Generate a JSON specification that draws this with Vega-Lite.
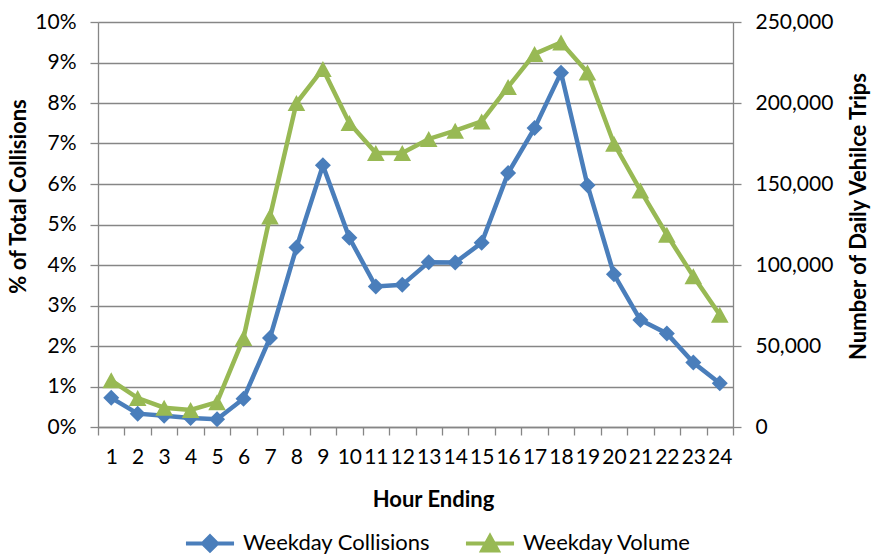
{
  "$schema": "https://vega.github.io/schema/vega-lite/v6.json",
  "width": 635,
  "height": 405,
  "autosize": {"type": "none"},
  "padding": {"left": 98, "top": 22, "right": 138, "bottom": 129},
  "background": "white",
  "config": {
    "view": {"stroke": null},
    "font": "Lato",
    "axis": {
      "labelFont": "Lato",
      "labelFontSize": 21,
      "labelColor": "#000000",
      "titleFont": "Lato",
      "titleFontSize": 22,
      "titleFontWeight": "bold",
      "titleColor": "#000000",
      "domainColor": "#868686",
      "domainWidth": 1.3,
      "tickColor": "#868686",
      "tickWidth": 1.3,
      "gridColor": "#868686",
      "gridWidth": 1.3
    },
    "legend": {
      "labelFont": "Lato",
      "labelFontSize": 22,
      "labelColor": "#000000",
      "labelLimit": 400,
      "title": null,
      "orient": "none",
      "direction": "horizontal",
      "legendX": 101,
      "legendY": 510,
      "symbolSize": 200,
      "symbolStrokeWidth": 4,
      "labelOffset": 22,
      "columnPadding": 26
    }
  },
  "data": {
    "values": [
      {"hour": 1, "series": "Weekday Collisions", "value": 0.0072},
      {"hour": 2, "series": "Weekday Collisions", "value": 0.0033},
      {"hour": 3, "series": "Weekday Collisions", "value": 0.0028},
      {"hour": 4, "series": "Weekday Collisions", "value": 0.0022},
      {"hour": 5, "series": "Weekday Collisions", "value": 0.0019},
      {"hour": 6, "series": "Weekday Collisions", "value": 0.0070},
      {"hour": 7, "series": "Weekday Collisions", "value": 0.0220},
      {"hour": 8, "series": "Weekday Collisions", "value": 0.0443},
      {"hour": 9, "series": "Weekday Collisions", "value": 0.0646},
      {"hour": 10, "series": "Weekday Collisions", "value": 0.0467},
      {"hour": 11, "series": "Weekday Collisions", "value": 0.0347},
      {"hour": 12, "series": "Weekday Collisions", "value": 0.0351},
      {"hour": 13, "series": "Weekday Collisions", "value": 0.0407},
      {"hour": 14, "series": "Weekday Collisions", "value": 0.0406},
      {"hour": 15, "series": "Weekday Collisions", "value": 0.0455},
      {"hour": 16, "series": "Weekday Collisions", "value": 0.0627},
      {"hour": 17, "series": "Weekday Collisions", "value": 0.0738},
      {"hour": 18, "series": "Weekday Collisions", "value": 0.0875},
      {"hour": 19, "series": "Weekday Collisions", "value": 0.0597},
      {"hour": 20, "series": "Weekday Collisions", "value": 0.0377},
      {"hour": 21, "series": "Weekday Collisions", "value": 0.0264},
      {"hour": 22, "series": "Weekday Collisions", "value": 0.0231},
      {"hour": 23, "series": "Weekday Collisions", "value": 0.0159},
      {"hour": 24, "series": "Weekday Collisions", "value": 0.0108},
      {"hour": 1, "series": "Weekday Volume", "value": 28800},
      {"hour": 2, "series": "Weekday Volume", "value": 17900},
      {"hour": 3, "series": "Weekday Volume", "value": 11900},
      {"hour": 4, "series": "Weekday Volume", "value": 10500},
      {"hour": 5, "series": "Weekday Volume", "value": 15300},
      {"hour": 6, "series": "Weekday Volume", "value": 54900},
      {"hour": 7, "series": "Weekday Volume", "value": 130000},
      {"hour": 8, "series": "Weekday Volume", "value": 200000},
      {"hour": 9, "series": "Weekday Volume", "value": 221000},
      {"hour": 10, "series": "Weekday Volume", "value": 187700},
      {"hour": 11, "series": "Weekday Volume", "value": 169100},
      {"hour": 12, "series": "Weekday Volume", "value": 169100},
      {"hour": 13, "series": "Weekday Volume", "value": 177800},
      {"hour": 14, "series": "Weekday Volume", "value": 182900},
      {"hour": 15, "series": "Weekday Volume", "value": 188600},
      {"hour": 16, "series": "Weekday Volume", "value": 209900},
      {"hour": 17, "series": "Weekday Volume", "value": 230300},
      {"hour": 18, "series": "Weekday Volume", "value": 237400},
      {"hour": 19, "series": "Weekday Volume", "value": 218900},
      {"hour": 20, "series": "Weekday Volume", "value": 174900},
      {"hour": 21, "series": "Weekday Volume", "value": 146000},
      {"hour": 22, "series": "Weekday Volume", "value": 118700},
      {"hour": 23, "series": "Weekday Volume", "value": 93000},
      {"hour": 24, "series": "Weekday Volume", "value": 69300}
    ]
  },
  "layer": [
    {
      "transform": [{"filter": "datum.series === 'Weekday Collisions'"}],
      "encoding": {
        "x": {
          "field": "hour",
          "type": "quantitative",
          "scale": {"domain": [0.5, 24.5], "nice": false, "zero": false},
          "axis": {
            "orient": "bottom",
            "values": [1,2,3,4,5,6,7,8,9,10,11,12,13,14,15,16,17,18,19,20,21,22,23,24],
            "ticks": false,
            "domain": false,
            "grid": false,
            "labelPadding": 19,
            "labelFlush": false,
            "labelOverlap": false,
            "title": "Hour Ending",
            "titleX": 335,
            "titleY": 72,
            "titleBaseline": "middle",
            "titleAlign": "center"
          }
        },
        "y": {
          "field": "value",
          "type": "quantitative",
          "scale": {"domain": [0, 0.1], "nice": false},
          "axis": {
            "orient": "left",
            "values": [0, 0.01, 0.02, 0.03, 0.04, 0.05, 0.06, 0.07, 0.08, 0.09, 0.1],
            "format": ".0%",
            "grid": true,
            "tickSize": 8,
            "labelPadding": 14,
            "title": "% of Total Collisions",
            "titleAngle": 270,
            "titleX": -80,
            "titleY": 174,
            "titleBaseline": "middle",
            "titleAlign": "center"
          }
        }
      },
      "layer": [
        {"mark": {"type": "line", "color": "#4A7EBB", "strokeWidth": 4.5}},
        {
          "mark": {"type": "point", "filled": true, "size": 256, "opacity": 1, "strokeWidth": 0},
          "encoding": {
            "fill": {
              "field": "series", "type": "nominal",
              "scale": {"domain": ["Weekday Collisions", "Weekday Volume"], "range": ["#4A7EBB", "#98B954"]}
            },
            "stroke": {
              "field": "series", "type": "nominal",
              "scale": {"domain": ["Weekday Collisions", "Weekday Volume"], "range": ["#4A7EBB", "#98B954"]}
            },
            "shape": {
              "field": "series", "type": "nominal",
              "scale": {"domain": ["Weekday Collisions", "Weekday Volume"], "range": ["M-3.4,0L3.4,0M0,-1L1,0L0,1L-1,0Z", "M-3.4,0L3.4,0M0,-1L1.1,1L-1.1,1Z"]}
            }
          }
        }
      ]
    },
    {
      "transform": [{"filter": "datum.series === 'Weekday Volume'"}],
      "encoding": {
        "x": {
          "field": "hour",
          "type": "quantitative",
          "scale": {"domain": [0.5, 24.5], "nice": false, "zero": false},
          "axis": {
            "orient": "bottom",
            "values": [0.5,1.5,2.5,3.5,4.5,5.5,6.5,7.5,8.5,9.5,10.5,11.5,12.5,13.5,14.5,15.5,16.5,17.5,18.5,19.5,20.5,21.5,22.5,23.5,24.5],
            "labels": false,
            "ticks": true,
            "tickSize": 8,
            "domain": true,
            "grid": false,
            "title": null
          }
        },
        "y": {
          "field": "value",
          "type": "quantitative",
          "scale": {"domain": [0, 250000], "nice": false},
          "axis": {
            "orient": "right",
            "values": [0, 50000, 100000, 150000, 200000, 250000],
            "format": ",.0f",
            "grid": false,
            "tickSize": 8,
            "labelPadding": 14,
            "title": "Number of Daily Vehilce Trips",
            "titleAngle": 270,
            "titleX": 125,
            "titleY": 194,
            "titleBaseline": "middle",
            "titleAlign": "center"
          }
        }
      },
      "layer": [
        {"mark": {"type": "line", "color": "#98B954", "strokeWidth": 4.5}},
        {
          "mark": {"type": "point", "filled": true, "size": 256, "opacity": 1, "strokeWidth": 0},
          "encoding": {
            "fill": {
              "field": "series", "type": "nominal",
              "scale": {"domain": ["Weekday Collisions", "Weekday Volume"], "range": ["#4A7EBB", "#98B954"]}
            },
            "stroke": {
              "field": "series", "type": "nominal",
              "scale": {"domain": ["Weekday Collisions", "Weekday Volume"], "range": ["#4A7EBB", "#98B954"]}
            },
            "shape": {
              "field": "series", "type": "nominal",
              "scale": {"domain": ["Weekday Collisions", "Weekday Volume"], "range": ["M-3.4,0L3.4,0M0,-1L1,0L0,1L-1,0Z", "M-3.4,0L3.4,0M0,-1L1.1,1L-1.1,1Z"]}
            }
          }
        }
      ]
    }
  ],
  "resolve": {
    "scale": {"y": "independent"},
    "axis": {"x": "independent", "y": "independent"}
  }
}
